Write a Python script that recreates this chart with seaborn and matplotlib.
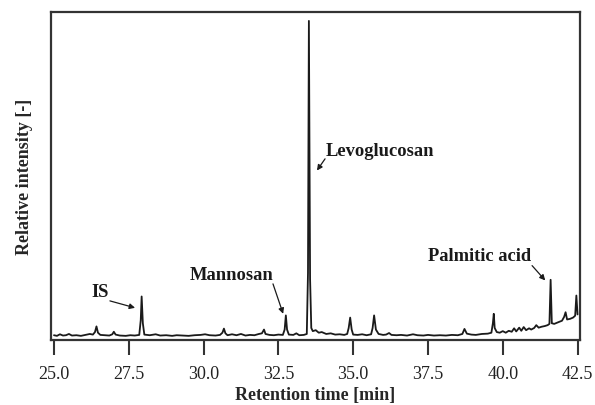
import matplotlib
matplotlib.use("Agg")
import matplotlib.pyplot as plt
import seaborn as sns
import pandas as pd

# Chromatogram trace (intensity: levoglucosan = 100)
rt_early = [25.0, 25.1, 25.2, 25.3, 25.4, 25.5, 25.6, 25.75, 25.9, 26.05, 26.2, 26.3,
            26.37, 26.42, 26.47, 26.55, 26.7, 26.85, 26.95, 27.0, 27.06, 27.2, 27.4,
            27.55, 27.7, 27.85, 27.9, 27.93, 27.97, 28.02, 28.2, 28.4, 28.55, 28.75, 28.95]
int_early = [0.2, 0.0, 0.5, 0.1, 0.2, 0.6, 0.1, 0.2, 0.0, 0.3, 0.6, 0.4,
             1.2, 3.0, 1.0, 0.3, 0.2, 0.1, 0.5, 1.3, 0.4, 0.1, 0.0,
             0.2, 0.1, 0.3, 5.0, 12.5, 4.0, 0.4, 0.2, 0.5, 0.1, 0.2, 0.0]

rt_mid = [29.1, 29.3, 29.5, 29.7, 29.9, 30.05, 30.2, 30.4, 30.55, 30.63, 30.68, 30.73,
          30.8, 30.95, 31.1, 31.25, 31.4, 31.55, 31.7, 31.85, 31.95, 32.02, 32.07, 32.2,
          32.35, 32.5, 32.65, 32.71, 32.75, 32.79, 32.85, 33.0, 33.1, 33.2, 33.35, 33.45]
int_mid = [0.2, 0.1, 0.0, 0.2, 0.3, 0.5, 0.2, 0.1, 0.3, 1.0, 2.3, 0.8,
           0.2, 0.5, 0.2, 0.6, 0.1, 0.3, 0.2, 0.6, 0.8, 2.0, 0.6, 0.3,
           0.2, 0.4, 0.3, 2.0, 6.5, 2.0, 0.4, 0.3, 0.8, 0.2, 0.3, 0.6]

rt_levo = [33.49, 33.52, 33.56, 33.6, 33.65, 33.75, 33.85, 33.95, 34.1, 34.25, 34.4,
           34.55, 34.7, 34.8, 34.85, 34.9, 34.95, 35.0, 35.15, 35.3, 35.45, 35.6, 35.65,
           35.7, 35.76, 35.85, 36.0, 36.1, 36.2, 36.28, 36.45, 36.6, 36.8, 37.0, 37.15,
           37.35, 37.5, 37.7, 37.9, 38.1, 38.3, 38.5, 38.65, 38.72, 38.8, 38.95, 39.1,
           39.3, 39.5, 39.62]
int_levo = [20.0, 100.0, 18.0, 2.5, 1.5, 1.8, 1.0, 1.2, 0.6, 0.8, 0.4,
            0.5, 0.3, 0.6, 2.5, 5.8, 2.0, 0.4, 0.3, 0.5, 0.2, 0.5, 2.5,
            6.5, 2.0, 0.6, 0.3, 0.4, 0.9, 0.3, 0.2, 0.3, 0.1, 0.5, 0.2,
            0.1, 0.3, 0.1, 0.2, 0.1, 0.3, 0.2, 0.6, 2.2, 0.7, 0.4, 0.3,
            0.6, 0.7, 1.0]

rt_late = [39.67, 39.7, 39.73, 39.8, 39.9, 40.0, 40.1, 40.2, 40.3, 40.38, 40.45, 40.55,
           40.62, 40.7, 40.78, 40.88, 40.95, 41.05, 41.12, 41.2, 41.3, 41.4, 41.5, 41.56,
           41.6, 41.64, 41.72, 41.82, 41.9, 41.98, 42.05, 42.1, 42.15, 42.25, 42.35, 42.42,
           42.46, 42.5]
int_late = [4.0, 7.0, 2.5, 1.2, 1.0, 1.5, 1.0, 1.6, 1.3, 2.4, 1.4, 2.6,
            1.6, 2.8, 1.8, 2.4, 2.0, 2.5, 3.4, 2.6, 2.9, 3.1, 3.4, 3.8,
            17.8, 4.0, 3.8, 4.2, 4.5, 4.8, 6.0, 7.5, 5.2, 5.4, 5.8, 6.4,
            12.8, 6.8]

peak_labels = ["IS", "Mannosan", "Levoglucosan", "Palmitic acid"]

df = pd.DataFrame({
    "rt": rt_early + rt_mid + rt_levo + rt_late,
    "intensity": int_early + int_mid + int_levo + int_late,
})

sns.set_theme(style="white")
plt.rcParams["font.family"] = ["Liberation Serif", "DejaVu Serif"]

fig = plt.figure(figsize=(5.95, 4.06), dpi=100)
ax = fig.add_axes([0.0857, 0.161, 0.889, 0.806])

sns.lineplot(data=df, x="rt", y="intensity", estimator=None, sort=True,
             color="#1a1a1a", lw=1.3, ax=ax)

ax.set_xlim(24.9, 42.58)
ax.set_ylim(-1.2, 102.7)
ax.set_xticks([25.0, 27.5, 30.0, 32.5, 35.0, 37.5, 40.0, 42.5])
ax.set_xticklabels(["25.0", "27.5", "30.0", "32.5", "35.0", "37.5", "40.0", "42.5"])
ax.set_yticks([])
ax.tick_params(axis="x", bottom=True, direction="out", length=11, width=1.5,
               color="#333333", pad=7, labelsize=13, labelcolor="#222222")
for sp in ax.spines.values():
    sp.set_color("#333333")
    sp.set_linewidth(1.6)

ax.set_xlabel("Retention time [min]", fontsize=13, fontweight="bold", labelpad=3)
ax.set_ylabel("Relative intensity [-]", fontsize=13, fontweight="bold", labelpad=13)

# peak labels and arrows
text_xy = [(26.54, 14.0), (30.94, 19.4), (35.9, 58.7), (39.21, 25.4)]
arrow_tail = [(26.87, 11.1), (32.32, 16.5), (34.06, 56.2), (40.98, 22.3)]
arrow_head = [(27.71, 8.9), (32.66, 7.0), (33.79, 52.5), (41.42, 17.6)]
for lab, t, a, h in zip(peak_labels, text_xy, arrow_tail, arrow_head):
    ax.text(t[0], t[1], lab, ha="center", va="center", fontsize=13.3,
            fontweight="bold", color="#1a1a1a")
    ax.annotate("", xy=h, xytext=a,
                arrowprops=dict(arrowstyle="-|>", color="#1a1a1a", lw=0.9,
                                mutation_scale=8, shrinkA=0, shrinkB=0))

fig.savefig("out.png", dpi=100)
